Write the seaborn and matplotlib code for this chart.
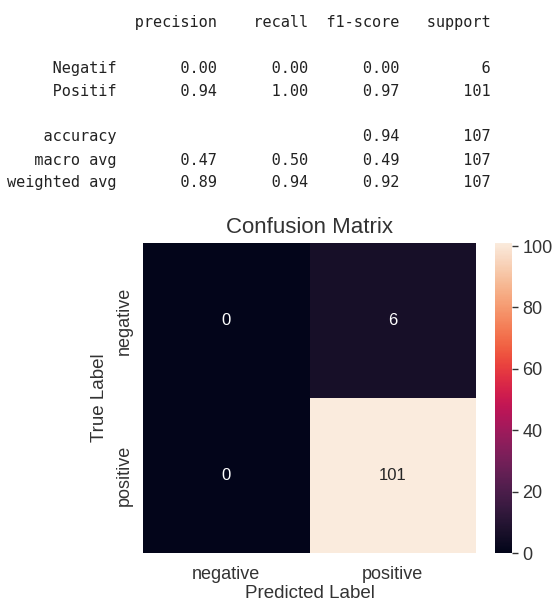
import matplotlib
matplotlib.use("Agg")
import matplotlib.pyplot as plt
import seaborn as sns
import numpy as np

# classification report values
classes = ["Negatif", "Positif"]
precision = [0.00, 0.94]
recall = [0.00, 1.00]
f1_score = [0.00, 0.97]
support = [6, 101]
accuracy = 0.94
total = 107
macro_avg = [0.47, 0.50, 0.49]
weighted_avg = [0.89, 0.94, 0.92]

# confusion matrix
cm = [[0, 6], [0, 101]]
cm_labels = ["negative", "positive"]


def report_lines():
    w = 12
    lines = ["{:>{w}s} ".format("", w=w) + "".join(" {:>9}".format(h) for h in
             ["precision", "recall", "f1-score", "support"]), ""]
    for c, p, r, f, s in zip(classes, precision, recall, f1_score, support):
        lines.append("{:>{w}s} ".format(c, w=w) +
                     " {:>9.2f} {:>9.2f} {:>9.2f} {:>9}".format(p, r, f, s))
    lines.append("")
    lines.append("{:>{w}s} ".format("accuracy", w=w) +
                 " {:>9} {:>9} {:>9.2f} {:>9}".format("", "", accuracy, total))
    for name, vals in [("macro avg", macro_avg), ("weighted avg", weighted_avg)]:
        lines.append("{:>{w}s} ".format(name, w=w) +
                     " {:>9.2f} {:>9.2f} {:>9.2f} {:>9}".format(*vals, total))
    return lines


sns.set_style("white")
plt.rcParams["font.family"] = ["Liberation Sans", "DejaVu Sans"]

W, H = 555, 605
fig = plt.figure(figsize=(W / 100, H / 100), dpi=100)

for i, line in enumerate(report_lines()):
    fig.text(7 / W, 1 - (22 + 23 * i) / H, line, family="DejaVu Sans Mono",
             fontsize=11, va="center", ha="left", color="#222222")

ax = fig.add_axes([143 / W, 1 - 553 / H, 333 / W, 310 / H])
cax = fig.add_axes([495 / W, 1 - 553 / H, 17 / W, 310 / H])

sns.heatmap(np.array(cm), annot=True, fmt="d", ax=ax, cbar_ax=cax,
            xticklabels=cm_labels, yticklabels=cm_labels,
            annot_kws={"fontsize": 12})
ax.set_title("Confusion Matrix", fontsize=16, color=".2", pad=7)
ax.set_xlabel("Predicted Label", fontsize=13.5, color=".2", labelpad=1.5)
ax.set_ylabel("True Label", fontsize=13.5, color=".2", labelpad=6)
ax.tick_params(labelsize=13, colors=".2", length=0)
ax.tick_params(axis="x", pad=9.5)
ax.tick_params(axis="y", pad=7)
cax.tick_params(labelsize=13, colors=".2", length=4, width=1, right=True)

fig.savefig("out.png", dpi=100)
